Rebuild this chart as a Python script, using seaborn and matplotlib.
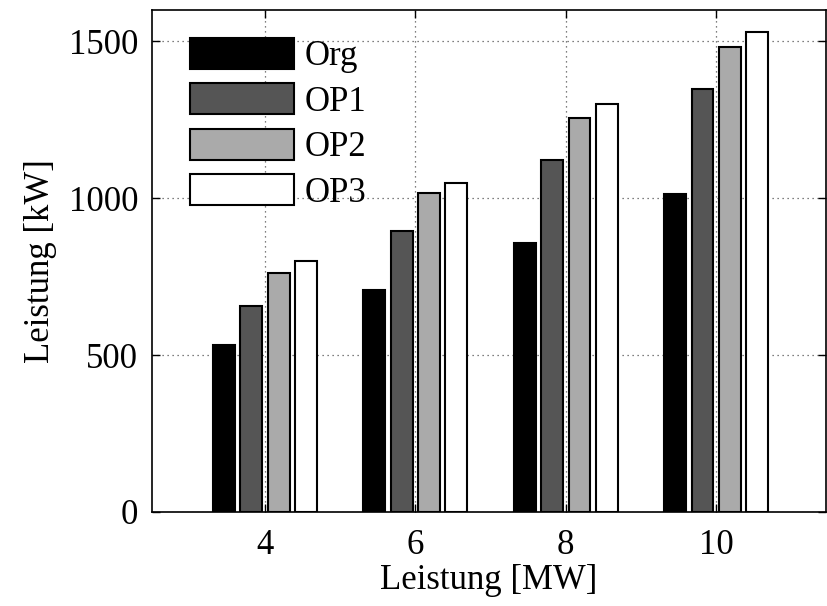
import matplotlib
matplotlib.use("Agg")
import matplotlib.pyplot as plt
import seaborn as sns
import pandas as pd

groups = ["4", "6", "8", "10"]
series = ["Org", "OP1", "OP2", "OP3"]
org = [532, 706, 858, 1014]
op1 = [658, 895, 1122, 1347]
op2 = [762, 1018, 1256, 1481]
op3 = [800, 1050, 1300, 1531]
colors = ["#000000", "#555555", "#aaaaaa", "#ffffff"]
yticks = [0, 500, 1000, 1500]

rows = []
for name, vals in zip(series, [org, op1, op2, op3]):
    for g, v in zip(groups, vals):
        rows.append({"group": g, "series": name, "value": v})
df = pd.DataFrame(rows)

sns.set_theme(style="white")
plt.rcParams["font.family"] = ["Liberation Serif", "DejaVu Serif"]
plt.rcParams["font.size"] = 25
plt.rcParams["text.color"] = "black"
plt.rcParams["axes.labelcolor"] = "black"
plt.rcParams["xtick.color"] = "black"
plt.rcParams["ytick.color"] = "black"

fig = plt.figure(figsize=(8.27, 6.06), dpi=100)
ax = fig.add_axes([152 / 827, 94 / 606, 674 / 827, 502 / 606])

sns.barplot(data=df, x="group", y="value", hue="series", order=groups,
            hue_order=series, palette=colors, edgecolor="black", linewidth=1.5,
            width=0.728, gap=0.2, errorbar=None, ax=ax, zorder=3)

ax.set_xlim(-0.751, 3.73)
ax.set_ylim(0, 1600)
ax.set_yticks(yticks)
ax.set_yticklabels([str(t) for t in yticks])
ax.set_xticks(range(len(groups)))
ax.set_xticklabels(groups)

ax.set_axisbelow(True)
ax.grid(True, linestyle=(0, (1, 3)), color="#555555", linewidth=0.9, zorder=0)

for s in ax.spines.values():
    s.set_visible(True)
    s.set_color("black")
    s.set_linewidth(1.2)

ax.tick_params(axis="both", direction="in", length=6, width=1.0,
               top=True, right=True, bottom=True, left=True,
               labelsize=25, colors="black", pad=10)
ax.tick_params(axis="x", pad=12)

ax.set_xlabel("Leistung [MW]", fontsize=25, labelpad=2, color="black")
ax.set_ylabel("Leistung [kW]", fontsize=25, labelpad=8, color="black")

leg = ax.legend(loc="upper left", bbox_to_anchor=(0.056, 0.945), frameon=False,
                fontsize=25, handlelength=3.0, handleheight=1.0,
                handletextpad=0.32, labelspacing=0.29, borderpad=0,
                borderaxespad=0)
for h in leg.legend_handles:
    h.set_edgecolor("black")
    h.set_linewidth(1.5)
for t in leg.get_texts():
    t.set_color("black")

fig.savefig("out.png", dpi=100)
